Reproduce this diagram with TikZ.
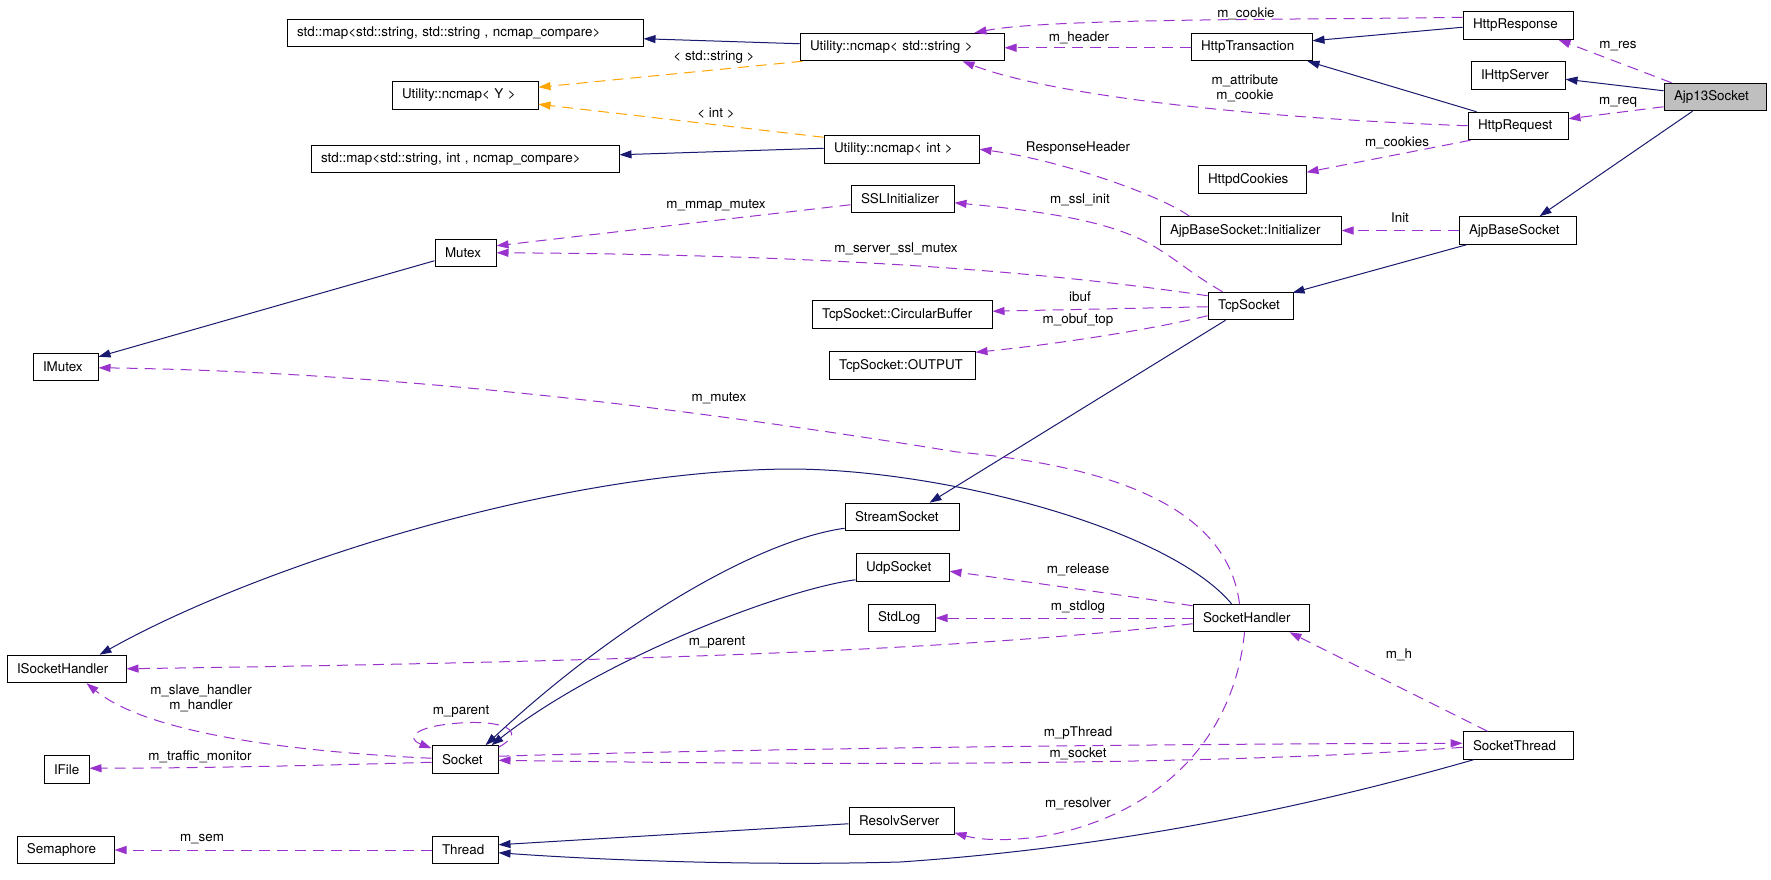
\documentclass[tikz,border=0pt]{standalone}
\usepackage{fontspec}
\setmainfont{TeX Gyre Heros}
\usetikzlibrary{arrows.meta,calc}
\definecolor{inhc}{HTML}{191970}
\definecolor{usec}{HTML}{9A32CD}
\definecolor{tmplc}{HTML}{FFA500}
\definecolor{curc}{HTML}{BFBFBF}
\begin{document}
\begin{tikzpicture}[x=1pt,y=-1pt,
  cls/.style={draw=black, line width=1pt, minimum height=27.5pt, inner xsep=10pt, inner ysep=0pt, align=left, font=\fontsize{13.4}{15}\selectfont},
  lbl/.style={inner sep=0pt, align=center, font=\fontsize{13.4}{15}\selectfont},
  inh/.style={draw=inhc, line width=1pt, -{Triangle[length=12pt,width=8pt]}},
  use/.style={draw=usec, line width=1pt, dash pattern=on 11pt off 7pt, -{Triangle[length=12pt,width=8pt]}},
  tmpl/.style={draw=tmplc, line width=1pt, dash pattern=on 11pt off 7pt, -{Triangle[length=12pt,width=8pt]}}]
\fill[white] (0,0) rectangle (1771,880);
\path[use as bounding box] (0,0) rectangle (1771,880);
% nodes
\node[cls,text width=336pt] (mapstr) at (465,33) {std::map<std::string, std::string , ncmap\_compare>};
\node[cls,text width=184pt] (ncstr) at (902,47) {Utility::ncmap< std::string >};
\node[cls,text width=101pt] (htrans) at (1251.5,47) {HttpTransaction};
\node[cls,text width=90pt] (hresp) at (1518,25.5) {HttpResponse};
\node[cls,text width=74pt] (ihttp) at (1518,75.5) {IHttpServer};
\node[cls,text width=82pt,fill=curc] (ajp13) at (1715,97) {Ajp13Socket};
\node[cls,text width=80pt] (hreq) at (1518,126) {HttpRequest};
\node[cls,text width=126pt] (ncy) at (465,95.5) {Utility::ncmap< Y >};
\node[cls,text width=288pt] (mapint) at (465,159) {std::map<std::string, int , ncmap\_compare>};
\node[cls,text width=135pt] (ncint) at (901.5,149.5) {Utility::ncmap< int >};
\node[cls,text width=88pt] (hcook) at (1252,179.5) {HttpdCookies};
\node[cls,text width=83pt] (ssl) at (902.5,199) {SSLInitializer};
\node[cls,text width=161pt] (ajpinit) at (1250.5,230.5) {AjpBaseSocket::Initializer};
\node[cls,text width=97pt] (ajpbase) at (1517.5,230.5) {AjpBaseSocket};
\node[cls,text width=41pt] (mutex) at (465.5,253) {Mutex};
\node[cls,text width=65pt] (tcp) at (1250.5,306) {TcpSocket};
\node[cls,text width=160pt] (circ) at (902,314.5) {TcpSocket::CircularBuffer};
\node[cls,text width=126pt] (outp) at (902,365.5) {TcpSocket::OUTPUT};
\node[cls,text width=45pt] (imutex) at (65.5,367) {IMutex};
\node[cls,text width=94pt] (stream) at (902,517) {StreamSocket};
\node[cls,text width=73pt] (udp) at (902.5,567.5) {UdpSocket};
\node[cls,text width=47pt] (stdlog) at (901.5,618) {StdLog};
\node[cls,text width=96pt] (shandler) at (1251,618) {SocketHandler};
\node[cls,text width=99pt] (ishandler) at (66.5,669) {ISocketHandler};
\node[cls,text width=46pt] (socket) at (465,759.5) {Socket};
\node[cls,text width=25pt] (ifile) at (66.5,769.5) {IFile};
\node[cls,text width=90pt] (sthread) at (1518,745.5) {SocketThread};
\node[cls,text width=85pt] (resolv) at (901.5,821) {ResolvServer};
\node[cls,text width=77pt] (sema) at (65.5,850) {Semaphore};
\node[cls,text width=46pt] (thread) at (465,850) {Thread};
% inheritance
\draw[inh] ($(ncstr.north west)+(0,11)$) -- ($(mapstr.north east)+(0,20)$);
\draw[inh] ($(ncint.north west)+(0,13)$) -- ($(mapint.north east)+(0,10)$);
\draw[inh] ($(hresp.north west)+(0,16)$) -- ($(htrans.north east)+(0,8)$);
\draw[inh] ($(hreq.north west)+(9,0)$) -- ($(htrans.south east)+(-5,0)$);
\draw[inh] ($(ajp13.north west)+(0,8)$) -- ($(ihttp.north east)+(0,18)$);
\draw[inh] ($(ajp13.south west)+(29,0)$) -- ($(ajpbase.north west)+(81,0)$);
\draw[inh] ($(ajpbase.south west)+(8,0)$) -- ($(tcp.north east)+(-1,1)$);
\draw[inh] ($(tcp.south west)+(18,0)$) -- ($(stream.north west)+(85,0)$);
\draw[inh] ($(mutex.north west)+(0,22)$) -- ($(imutex.north east)+(0,4)$);
\draw[inh] ($(shandler.north west)+(39,0)$) .. controls (1170,530) and (950,470) .. (792,469) .. controls (550,470) and (250,570) .. ($(ishandler.north west)+(93,0)$);
\draw[inh] ($(stream.south west)+(0,-3)$) .. controls (760,540) and (620,620) .. ($(socket.north west)+(54,0)$);
\draw[inh] ($(udp.south west)+(0,-2)$) .. controls (780,590) and (600,660) .. ($(socket.north west)+(60,0)$);
\draw[inh] ($(resolv.north west)+(0,17)$) -- ($(thread.north east)+(0,9)$);
\draw[inh] ($(sthread.south west)+(11,0)$) .. controls (1350,795) and (1150,845) .. (900,862) .. controls (750,866) and (600,860) .. ($(thread.north east)+(0,17)$);
% template
\draw[tmpl] ($(ncstr.south west)+(3,0)$) -- ($(ncy.north east)+(0,6)$);
\draw[tmpl] ($(ncint.north west)+(0,2)$) -- ($(ncy.north east)+(0,23)$);
% usage
\draw[use] ($(hresp.north west)+(0,6)$) .. controls (1300,20) and (1050,18) .. ($(ncstr.north west)+(175,0)$);
\draw[use] ($(htrans.north west)+(0,15)$) -- ($(ncstr.north east)+(0,15)$);
\draw[use] ($(hreq.north west)+(0,14)$) .. controls (1250,118) and (1050,95) .. ($(ncstr.south west)+(163,0)$);
\draw[use] ($(ajp13.north west)+(8,0)$) -- ($(hresp.south west)+(96,0)$);
\draw[use] ($(ajp13.north west)+(0,24)$) -- ($(hreq.north east)+(0,7)$);
\draw[use] ($(hreq.south west)+(3,0)$) -- ($(hcook.north east)+(0,7)$);
\draw[use] (ajpbase.west) -- (ajpinit.east);
\draw[use] ($(ajpinit.north west)+(30,0)$) .. controls (1160,195) and (1060,160) .. ($(ncint.north east)+(0,14)$);
\draw[use] ($(tcp.north west)+(15,0)$) .. controls (1150,250) and (1160,222) .. ($(ssl.north east)+(0,18)$);
\draw[use] ($(tcp.north west)+(0,4)$) .. controls (1100,280) and (900,255) .. ($(mutex.north east)+(0,14)$);
\draw[use] ($(ssl.north west)+(0,20)$) -- ($(mutex.north east)+(0,7)$);
\draw[use] ($(tcp.north west)+(0,15)$) -- ($(circ.north east)+(0,11)$);
\draw[use] ($(tcp.north west)+(0,24)$) .. controls (1150,330) and (1050,345) .. ($(outp.north east)+(0,1)$);
\draw[use] ($(shandler.north west)+(47,0)$) .. controls (1230,530) and (1160,470) .. (957,452) .. controls (700,410) and (400,372) .. ($(imutex.north east)+(0,15)$);
\draw[use] ($(shandler.north west)+(0,2)$) .. controls (1100,592) and (1000,578) .. ($(udp.north east)+(0,18)$);
\draw[use] (shandler.west) -- (stdlog.east);
\draw[use] ($(shandler.north west)+(0,20)$) .. controls (1000,645) and (750,660) .. ($(ishandler.north east)+(0,14)$);
\draw[use] ($(socket.north west)+(0,13)$) .. controls (300,752) and (150,735) .. ($(ishandler.south west)+(80,0)$);
\draw[use] ($(socket.north west)+(0,17)$) .. controls (300,766) and (200,768) .. ($(ifile.north east)+(0,13)$);
\draw[use] ($(socket.north east)+(0,2)$) .. controls (530,730) and (500,720) .. (460,723) .. controls (415,726) and (405,738) .. ($(socket.north west)+(0,3)$);
\draw[use] ($(socket.north east)+(0,11)$) .. controls (700,750) and (1100,744) .. ($(sthread.north west)+(0,12)$);
\draw[use] ($(sthread.north west)+(0,16)$) .. controls (1300,760) and (1000,768) .. ($(socket.north east)+(0,15)$);
\draw[use] ($(shandler.south west)+(52,0)$) .. controls (1235,730) and (1170,810) .. (1050,835) .. controls (1010,842) and (980,840) .. ($(resolv.north east)+(0,26)$);
\draw[use] ($(sthread.north west)+(25,0)$) -- ($(shandler.south west)+(97,0)$);
\draw[use] (thread.west) -- (sema.east);
% labels
\node[lbl] (l1) at (714,57) {< std::string >};
\node[lbl] (l2) at (716,113) {< int >};
\node[lbl] (l3) at (1246,14) {m\_cookie};
\node[lbl] (l4) at (1079,38) {m\_header};
\node[lbl] (l5) at (1245,88) {m\_attribute\\m\_cookie};
\node[lbl] (l6) at (1618,46) {m\_res};
\node[lbl] (l7) at (1618,102) {m\_req};
\node[lbl] (l8) at (1397,143) {m\_cookies};
\node[lbl] (l9) at (1400,218) {Init};
\node[lbl] (l10) at (1078,148) {ResponseHeader};
\node[lbl] (l11) at (1080,200) {m\_ssl\_init};
\node[lbl] (l12) at (896,249) {m\_server\_ssl\_mutex};
\node[lbl] (l13) at (716,205) {m\_mmap\_mutex};
\node[lbl] (l14) at (1080,297) {ibuf};
\node[lbl] (l15) at (1078,320) {m\_obuf\_top};
\node[lbl] (l16) at (719,398) {m\_mutex};
\node[lbl] (l17) at (1078,570) {m\_release};
\node[lbl] (l18) at (1078,607) {m\_stdlog};
\node[lbl] (l19) at (717,642) {m\_parent};
\node[lbl] (l20) at (201,698) {m\_slave\_handler\\m\_handler};
\node[lbl] (l21) at (200,757) {m\_traffic\_monitor};
\node[lbl] (l22) at (461,711) {m\_parent};
\node[lbl] (l23) at (1078,733) {m\_pThread};
\node[lbl] (l24) at (1078,754) {m\_socket};
\node[lbl] (l25) at (1078,804) {m\_resolver};
\node[lbl] (l26) at (1399,655) {m\_h};
\node[lbl] (l27) at (202,839) {m\_sem};
\end{tikzpicture}
\end{document}
